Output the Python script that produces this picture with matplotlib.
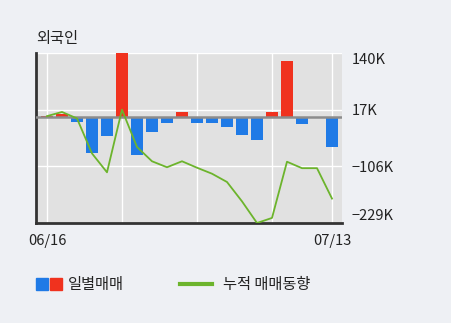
import matplotlib
matplotlib.use("Agg")
import matplotlib.pyplot as plt
from matplotlib.patches import Rectangle
from matplotlib.lines import Line2D

plt.rcParams['font.family'] = ['Noto Sans CJK KR', 'DejaVu Sans']

dates = ["06/16", "06/17", "06/18", "06/19", "06/22", "06/23", "06/24", "06/25",
         "06/26", "06/29", "06/30", "07/01", "07/02", "07/03", "07/06", "07/07",
         "07/08", "07/09", "07/10", "07/13"]
daily = [3, 7, -10, -78, -40, 140, -81, -31, -12, 13, -13, -13, -20, -38, -48, 12,
         122, -14, 0, -64]  # thousands
cumulative = [3, 12, -2, -78, -119, 17, -64, -95, -108, -95, -109, -122, -140, -182,
              -229, -218, -96, -110, -110, -176]  # thousands
ytick_vals = [140, 17, -106, -229]
ytick_labels = ["140K", "17K", "\u2212106K", "\u2212229K"]
xtick_idx = [0, 19]
vgrid_idx = [0, 5, 10, 15, 19]

W, H = 451, 323
fig = plt.figure(figsize=(W / 100, H / 100), dpi=100)
fig.patch.set_facecolor("#eef0f4")
ax = fig.add_axes([36 / W, 100 / H, 306 / W, 170 / H])
ax.set_facecolor("#e1e1e1")

x = list(range(len(dates)))
colors = ["#f0321e" if v > 0 else "#1f7ae6" for v in daily]
ax.bar(x, daily, width=0.85, color=colors, zorder=2)
ax.axhline(0, color="#8c8c8c", lw=1.8, zorder=3)
ax.plot(x, cumulative, color="#6cb42c", lw=1.3, zorder=4)

ax.set_xlim(-0.733, 19.667)
ax.set_ylim(-229, 140)
for v in ytick_vals:
    ax.axhline(v, color="white", lw=1, zorder=1)
for i in vgrid_idx:
    ax.axvline(i, color="white", lw=1, zorder=1)

ax.set_xticks(xtick_idx)
ax.set_xticklabels([dates[i] for i in xtick_idx], fontsize=10.5, color="#222222")
ax.yaxis.tick_right()
ax.set_yticks(ytick_vals)
ax.set_yticklabels(ytick_labels, fontsize=10.5, color="#222222")
ax.tick_params(axis="both", length=0)
ax.tick_params(axis="y", pad=7)
ax.tick_params(axis="x", pad=8)
ylabels = ax.get_yticklabels()
ylabels[0].set_va("top")
ylabels[-1].set_va("bottom")

for s in ["top", "right"]:
    ax.spines[s].set_visible(False)
for s in ["left", "bottom"]:
    ax.spines[s].set_color("#333333")
    ax.spines[s].set_linewidth(2)

fig.text(36 / W, 1 - 38.5 / H, "외국인", fontsize=11, color="#222222", va="center", ha="left")

# legend
def fx(px):
    return px / W

def fy(py):
    return 1 - py / H

fig.patches.append(Rectangle((fx(36), fy(290)), 12 / W, 12 / H, transform=fig.transFigure,
                             color="#1f7ae6"))
fig.patches.append(Rectangle((fx(50), fy(290)), 12 / W, 12 / H, transform=fig.transFigure,
                             color="#f0321e"))
fig.text(fx(68), fy(284), "일별매매", fontsize=11, color="#222222", va="center", ha="left")
fig.lines.append(Line2D([fx(180), fx(212)], [fy(284), fy(284)], transform=fig.transFigure,
                        color="#6cb42c", lw=3))
fig.text(fx(223), fy(284), "누적 매매동향", fontsize=11, color="#222222", va="center", ha="left")

fig.savefig("out.png", dpi=100, facecolor=fig.get_facecolor())
